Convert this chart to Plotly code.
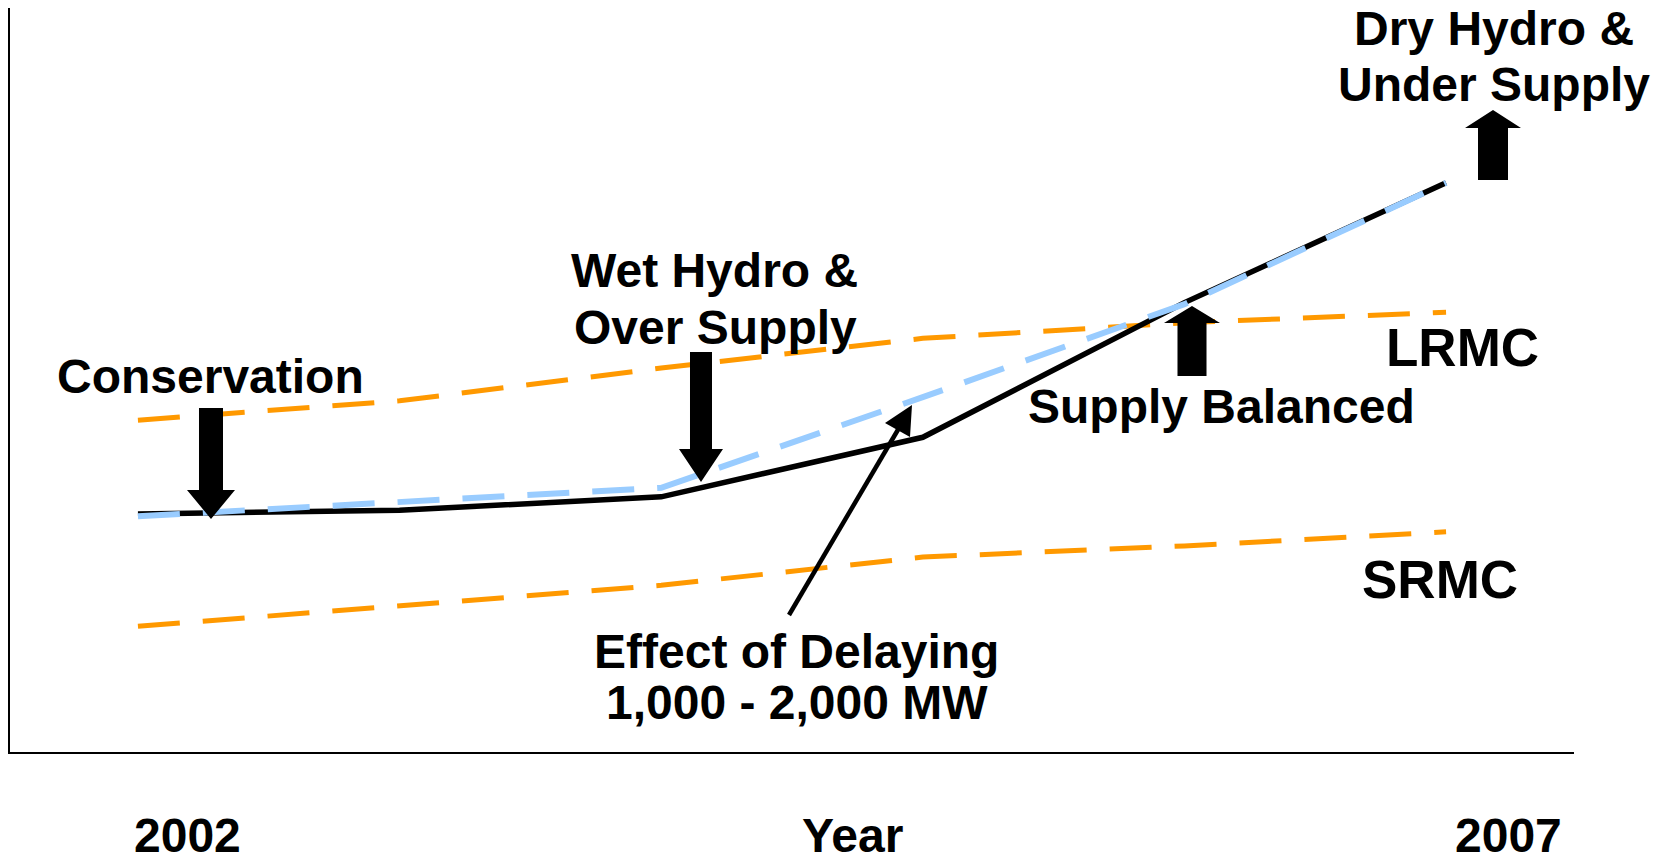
import plotly.graph_objects as go

# data (unitless price index, 0 = bottom axis, 100 = top)
years = [2002, 2003, 2004, 2005, 2006, 2007]
price_path = [32.0, 32.5, 34.3, 42.3, 60.4, 76.5]
delayed_path = [31.7, 33.6, 35.5, 47.7, 60.2, 76.5]
lrmc = [44.6, 47.2, 51.6, 55.6, 57.7, 59.1]
srmc = [16.9, 19.7, 22.4, 26.2, 27.7, 29.6]

W, H = 1667, 862
L, R, T, B = 10, 93, 8, 110
PW, PH = W - L - R, H - T - B
FONT = "Liberation Sans, Arial, Helvetica, sans-serif"


def px(x):
    return (x - L) / PW


def py(y):
    return (H - B - y) / PH


def path_from(points):
    parts = ["M %.5f,%.5f" % (px(points[0][0]), py(points[0][1]))]
    for x, y in points[1:]:
        parts.append("L %.5f,%.5f" % (px(x), py(y)))
    return " ".join(parts) + " Z"


def block_arrow(cx, tip, tail, shaft, head, head_len):
    d = 1 if tip > tail else -1
    base = tip - d * head_len
    pts = [(cx - shaft / 2, tail), (cx + shaft / 2, tail), (cx + shaft / 2, base),
           (cx + head / 2, base), (cx, tip), (cx - head / 2, base), (cx - shaft / 2, base)]
    return dict(type="path", xref="paper", yref="paper", path=path_from(pts),
                fillcolor="black", line=dict(width=0), layer="above")


fig = go.Figure()
dash = "42px,23px"
fig.add_trace(go.Scatter(x=years, y=lrmc, mode="lines",
                         line=dict(color="#FF9900", width=5, dash=dash)))
fig.add_trace(go.Scatter(x=years, y=srmc, mode="lines",
                         line=dict(color="#FF9900", width=5, dash=dash)))
fig.add_trace(go.Scatter(x=years, y=price_path, mode="lines",
                         line=dict(color="black", width=5.5)))
fig.add_trace(go.Scatter(x=years, y=delayed_path, mode="lines",
                         line=dict(color="#99CCFF", width=6, dash=dash)))

shapes = [
    block_arrow(211, 519, 408, 24, 48, 29),    # conservation
    block_arrow(701, 482, 352, 22, 44, 33),    # wet hydro
    block_arrow(1192, 306, 376, 29, 56, 17),   # supply balanced
    block_arrow(1493, 110, 180, 30, 56, 18),   # dry hydro
    dict(type="line", xref="paper", yref="paper",
         x0=px(789), y0=py(615), x1=px(899), y1=py(428),
         line=dict(color="black", width=4.5), layer="above"),
    dict(type="path", xref="paper", yref="paper",
         path=path_from([(912, 405), (885, 423), (910, 437)]),
         fillcolor="black", line=dict(width=0), layer="above"),
]

labels = [
    ("Dry Hydro &", 1494, 28.5, 48),
    ("Under Supply", 1494, 84, 48),
    ("Conservation", 210, 376.5, 48),
    ("Wet Hydro &", 714.5, 270.5, 48),
    ("Over Supply", 715, 328, 48),
    ("LRMC", 1462.5, 347, 53),
    ("Supply Balanced", 1221, 406, 48),
    ("SRMC", 1439.5, 579, 53),
    ("Effect of Delaying", 796, 651, 48),
    ("1,000 - 2,000 MW", 797, 702.5, 48),
    ("2002", 187, 835, 48),
    ("Year", 852, 835, 48),
    ("2007", 1508, 836, 48),
]
annotations = [
    dict(text=t, x=px(x), y=py(y), xref="paper", yref="paper",
         xanchor="center", yanchor="middle", showarrow=False,
         font=dict(family=FONT, size=s, color="black", weight="bold"))
    for t, x, y, s in labels
]

fig.update_layout(
    width=W, height=H,
    margin=dict(l=L, r=R, t=T, b=B, pad=0),
    paper_bgcolor="white", plot_bgcolor="white",
    showlegend=False, hovermode=False,
    shapes=shapes, annotations=annotations,
    xaxis=dict(range=[2001.511, 2007.489], showgrid=False, zeroline=False,
               showticklabels=False, ticks="", showline=True,
               linecolor="black", linewidth=2, fixedrange=True),
    yaxis=dict(range=[0, 100], showgrid=False, zeroline=False,
               showticklabels=False, ticks="", showline=True,
               linecolor="black", linewidth=2, fixedrange=True),
)

# page body margin would otherwise push the figure 8px down and right
fig.write_html("out.html", config={"displayModeBar": False},
               post_script="document.body.style.margin = '0';")
